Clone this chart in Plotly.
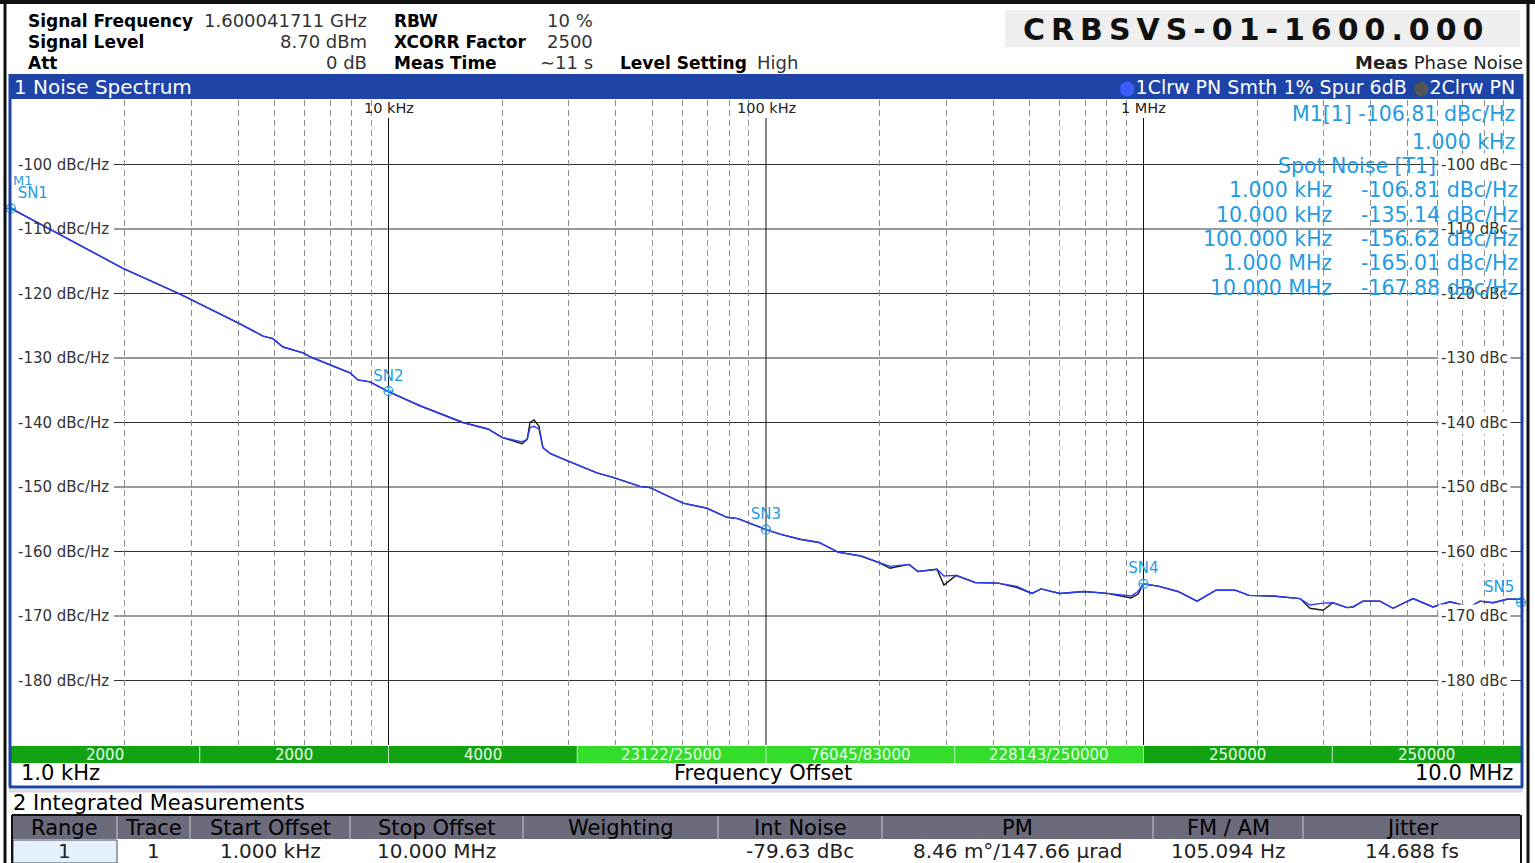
import numpy as np
import plotly.graph_objects as go

# ---------------- data ----------------
freq_hz = [1000, 1269, 1980, 2804, 4042, 4650, 4943, 5254, 5935, 6310, 7129, 7907, 8300, 8927,
           10000, 12114, 15740, 18346, 19980, 22570, 23300, 23710, 24300, 25040, 25640, 26780,
           29710, 35670, 39330, 46380, 49280, 60280, 69800, 78840, 84300, 96400, 100000, 108900,
           123000, 138200, 155100, 178500, 200400, 213100, 239200, 252700, 283800, 296100, 318700,
           357800, 411700, 462400, 506600, 535200, 600800, 695900, 800600, 926800, 967200, 1000000,
           1099000, 1234000, 1386000, 1556000, 1748000, 1903000, 2203000, 2598000, 2761000, 2989000,
           3177000, 3460000, 3589000, 3815000, 4232000, 4581000, 5176000, 5846000, 6486000, 7325000,
           7785000, 8433000, 9183000, 10000000]

trace1_dbc = [-106.8, -110.0, -116.1, -120.1, -124.7, -126.6, -127.0, -128.3, -129.2, -130.0, -131.2,
              -132.3, -133.4, -133.7, -135.2, -137.4, -140.0, -141.0, -142.3, -143.0, -142.6, -140.8,
              -140.6, -141.0, -143.9, -144.8, -145.9, -147.8, -148.5, -149.9, -150.1, -152.5, -153.3,
              -154.7, -154.9, -156.3, -156.6, -157.3, -158.1, -158.6, -160.1, -160.7, -161.8, -162.3,
              -162.0, -163.1, -162.75, -163.8, -163.7, -164.8, -164.9, -165.4, -166.5, -165.8, -166.5,
              -166.2, -166.5, -166.9, -166.2, -165.0, -165.4, -166.2, -167.7, -166.0, -166.0, -166.8,
              -166.9, -167.3, -168.3, -168.0, -167.95, -168.7, -168.6, -167.7, -167.7, -168.8, -167.3,
              -168.6, -167.8, -168.6, -167.7, -167.95, -167.4, -167.4]

trace2_dbc = [-106.8, -110.0, -116.1, -120.1, -124.7, -126.6, -127.0, -128.3, -129.2, -130.0, -131.2,
              -132.3, -133.4, -133.7, -135.2, -137.4, -140.0, -141.0, -142.3, -143.3, -142.6, -140.0,
              -139.6, -140.6, -143.9, -144.8, -145.9, -147.8, -148.5, -149.9, -150.1, -152.5, -153.3,
              -154.7, -154.9, -156.3, -156.6, -157.3, -158.1, -158.6, -160.1, -160.7, -161.8, -162.6,
              -162.0, -163.1, -162.75, -165.2, -163.7, -164.8, -164.9, -165.6, -166.5, -165.8, -166.5,
              -166.2, -166.5, -167.2, -166.6, -165.0, -165.4, -166.2, -167.7, -166.0, -166.0, -166.8,
              -166.9, -167.3, -168.8, -169.1, -167.95, -168.7, -168.6, -167.7, -167.7, -168.8, -167.3,
              -168.6, -167.8, -168.6, -167.7, -167.95, -167.4, -167.4]

spot_labels = ["SN1", "SN2", "SN3", "SN4", "SN5"]
spot_freq_hz = [1e3, 1e4, 1e5, 1e6, 1e7]
spot_dbc = [-106.81, -135.14, -156.62, -165.01, -167.88]
spot_freq_text = ["1.000 kHz", "10.000 kHz", "100.000 kHz", "1.000 MHz", "10.000 MHz"]
spot_value_text = ["-106.81 dBc/Hz", "-135.14 dBc/Hz", "-156.62 dBc/Hz", "-165.01 dBc/Hz", "-167.88 dBc/Hz"]

y_grid_dbc = [-100, -110, -120, -130, -140, -150, -160, -170, -180]
decade_hz = [1e4, 1e5, 1e6]
decade_text = ["10 kHz", "100 kHz", "1 MHz"]
minor_hz = [k * 10 ** d for d in range(3, 7) for k in range(2, 10)]

segment_edges_hz = [1e3, 3162.3, 1e4, 31623, 1e5, 316228, 1e6, 3162278, 1e7]
segment_text = ["2000", "2000", "4000", "23122/25000", "76045/83000", "228143/250000", "250000", "250000"]
segment_bright = [False, False, False, True, True, True, False, False]

header_rows = [
    ("Signal Frequency", "1.600041711 GHz", "RBW", "10 %"),
    ("Signal Level", "8.70 dBm", "XCORR Factor", "2500"),
    ("Att", "0 dB", "Meas Time", "∼11 s"),
]

table_headers = ["Range", "Trace", "Start Offset", "Stop Offset", "Weighting", "Int Noise", "PM", "FM / AM", "Jitter"]
table_row = ["1", "1", "1.000 kHz", "10.000 MHz", "", "-79.63 dBc", "8.46 m°/147.66 µrad", "105.094 Hz", "14.688 fs"]

# ---------------- layout constants ----------------
W, H = 1535, 863
L, R, T, B = 11, 1521, 100, 745
FONT = "DejaVu Sans"
MK = "#1f9ce3"
BLUE_BAR = "#1e44a7"


def px(x):
    return (x - L) / (R - L)


def py(y):
    return (B - y) / (B - T)


def fx(f):
    return (np.log10(f) - 3.0) / 4.0


annotations = []
shapes = []


def ann(text, x, y, size=16, color="#000", xanchor="left", yanchor="middle", bg=None,
        xref="paper", yref="paper", family=FONT, pad=0):
    d = dict(text=text, x=x, y=y, xref=xref, yref=yref, showarrow=False, xanchor=xanchor,
             yanchor=yanchor, font=dict(family=family, size=size, color=color), borderpad=pad)
    if bg:
        d["bgcolor"] = bg
    annotations.append(d)


def rect(x0, y0, x1, y1, fill, line=None, lw=0, layer="above"):
    shapes.append(dict(type="rect", xref="paper", yref="paper", x0=x0, x1=x1, y0=y0, y1=y1,
                       fillcolor=fill, line=dict(color=line or fill, width=lw), layer=layer))


def line(x0, y0, x1, y1, color, w=1, yref="paper", layer="above"):
    shapes.append(dict(type="line", xref="paper", yref=yref, x0=x0, x1=x1, y0=y0, y1=y1,
                       line=dict(color=color, width=w), layer=layer))


# ---------------- figure ----------------
fig = go.Figure()
fig.add_trace(go.Scatter(x=freq_hz, y=trace2_dbc, mode="lines", line=dict(color="#1a1a1a", width=1.4),
                         hoverinfo="skip", showlegend=False))
fig.add_trace(go.Scatter(x=freq_hz, y=trace1_dbc, mode="lines", line=dict(color="#2b3cff", width=1.4),
                         hoverinfo="skip", showlegend=False))
fig.add_trace(go.Scatter(x=spot_freq_hz, y=spot_dbc, mode="markers+text", text=spot_labels,
                         textposition=["top right", "top center", "top center", "top center", "top left"],
                         marker=dict(symbol="circle-cross-open", size=9, color=MK, line=dict(width=1.2, color=MK)),
                         textfont=dict(family=FONT, size=15, color=MK), cliponaxis=False,
                         hoverinfo="skip", showlegend=False))

# grid lines (under the traces)
for v in y_grid_dbc:
    line(px(114), v, 1, v, "#333", 1, yref="y", layer="below")
for f in decade_hz:
    line(fx(f), 0, fx(f), py(118), "#111", 1, layer="below")

# header
for i, (lab, val, lab2, val2) in enumerate(header_rows):
    yy = py([21, 42, 63][i])
    ann("<b>" + lab + "</b>", px(27), yy, size=17)
    ann(val, px(368), yy, size=18, color="#333", xanchor="right")
    ann("<b>" + lab2 + "</b>", px(393), yy, size=17)
    ann(val2, px(594), yy, size=18, color="#333", xanchor="right")
ann("<b>Level Setting</b>", px(619), py(63), size=17)
ann("High", px(756), py(63), size=18, color="#333")
ann("<b>Meas</b> Phase Noise", px(1524), py(63), size=18, color="#222", xanchor="right")

rect(px(1005), py(47), px(1520), py(10), "#efefef")
ann("<b>C\u2009R\u2009B\u2009S\u2009V\u2009S\u2009-\u20090\u20091\u2009-\u20091\u20096\u20090\u20090\u2009.\u20090\u20090\u20090</b>",
    px(1253), py(29), size=30, color="#111", xanchor="center")

# blue title bar
rect(px(9), py(99), px(1523), py(74), BLUE_BAR)
ann("1 Noise Spectrum", px(13), py(87), size=20, color="white")
ann("<span style='color:#3d5cff'>●</span>1Clrw PN Smth 1% Spur 6dB <span style='color:#555'>●</span>2Clrw PN",
    px(1516), py(87), size=19, color="white", xanchor="right")

# y labels
for v in y_grid_dbc:
    ann("%d dBc/Hz" % v, px(17), v, size=15, color="#333", yref="y")
    ann("%d dBc" % v, px(1511), v, size=15, color="#333", bg="white", xanchor="right", yref="y", pad=2)

# decade labels
for f, t in zip(decade_hz, decade_text):
    ann(t, fx(f), py(108), size=14.5, color="#222", xanchor="center")

# marker M1 tag (mostly hidden behind SN1 in the reference)
ann("M1", px(12), py(181), size=13, color=MK)

# spot noise info
ann("M1[1] -106.81 dBc/Hz", px(1516), py(114), size=20.5, color=MK, xanchor="right")
ann("1.000 kHz", px(1516), py(142), size=20.5, color=MK, xanchor="right")
ann("Spot Noise [T1]", px(1437), py(166), size=20.5, color=MK, xanchor="right")
for i, (ft, vt) in enumerate(zip(spot_freq_text, spot_value_text)):
    yy = py([190, 215, 239, 263, 288][i])
    ann(ft, px(1333), yy, size=20.5, color=MK, xanchor="right")
    ann(vt, px(1519), yy, size=20.5, color=MK, xanchor="right")

# green span bar
for i, t in enumerate(segment_text):
    f0, f1 = segment_edges_hz[i], segment_edges_hz[i + 1]
    rect(fx(f0), py(763), fx(f1), py(746), "#33dd2a" if segment_bright[i] else "#12a312")
    ann(t, (fx(f0) + fx(f1)) / 2, py(755), size=15, color="#eaffea", xanchor="center")
    if i > 0:
        line(fx(f0), py(763), fx(f0), py(746), "#b8e8b8", 1)

ann("1.0 kHz", px(20), py(773), size=21)
ann("Frequency Offset", px(763), py(773), size=21, xanchor="center")
ann("10.0 MHz", px(1514), py(773), size=21, xanchor="right")

# blue window frame
line(px(10), py(74), px(10), py(787), BLUE_BAR, 3)
line(px(1522), py(74), px(1522), py(787), BLUE_BAR, 3)
line(px(9), py(787), px(1523), py(787), BLUE_BAR, 3)
line(px(9), py(791), px(1523), py(791), "#d8d8d8", 3)

# integrated measurements
ann("2 Integrated Measurements", px(12), py(803), size=21)
col_x = [12, 117, 190, 350, 523, 718, 882, 1153, 1303, 1520]
rect(px(12), py(839), px(1520), py(816), "#6b6b7c")
line(px(12), py(815), px(1520), py(815), "#111", 2)
for i, (hd, cv) in enumerate(zip(table_headers, table_row)):
    cx = (px(col_x[i]) + px(col_x[i + 1])) / 2
    ann(hd, cx, py(828), size=21, color="#000", xanchor="center")
    if i > 0:
        line(px(col_x[i]), py(839), px(col_x[i]), py(816), "#a9a9b6", 1.5)
    if i == 0:
        rect(px(col_x[0] + 1), py(863), px(col_x[1]), py(840), "#e4f1fb", "#4a4a5a", 1)
    ann(cv, cx, py(851), size=20, color="#222", xanchor="center")
line(px(12), py(815), px(12), py(863), "#111", 2)
line(px(1521), py(815), px(1521), py(863), "#111", 2)

# outer dark frame
line(px(0), py(2), px(1535), py(2), "#111", 4)
line(px(5), py(0), px(5), py(863), "#111", 3)
line(px(1528), py(0), px(1528), py(863), "#111", 3)

fig.update_layout(
    width=W, height=H,
    margin=dict(l=L, r=W - R, t=T, b=H - B, pad=0),
    paper_bgcolor="white", plot_bgcolor="white",
    showlegend=False,
    xaxis=dict(type="log", range=[3 - 1e-6, 7 + 1e-6], tickvals=decade_hz, showgrid=False,
               showticklabels=False, ticks="", zeroline=False, showline=False, fixedrange=True,
               minor=dict(tickvals=minor_hz, showgrid=True, gridcolor="#8c8c8c", griddash="6px,4px",
                          gridwidth=1, ticks="")),
    yaxis=dict(range=[-190, -90], tickvals=y_grid_dbc, showgrid=False,
               showticklabels=False, ticks="", zeroline=False, showline=False, fixedrange=True),
    annotations=annotations,
    shapes=shapes,
)

fig.write_html("out.html", config={"displayModeBar": False},
               post_script="document.body.style.margin='0px';document.body.style.overflow='hidden';")
